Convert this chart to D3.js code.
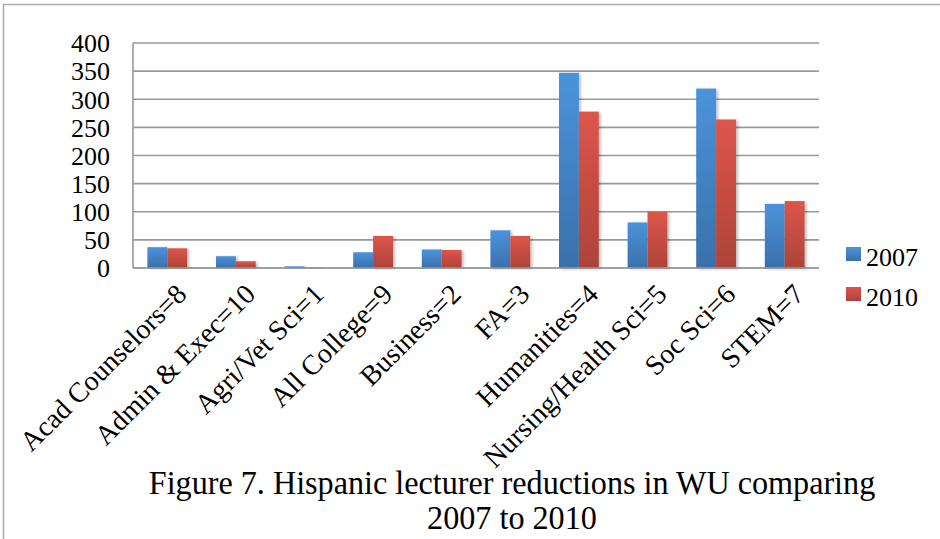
<!DOCTYPE html>
<html>
<head>
<meta charset="utf-8">
<script src="https://cdn.jsdelivr.net/npm/d3@7"></script>
<style>
  body { margin: 0; background: #fff; }
  svg { display: block; font-family: "Liberation Serif", "Times New Roman", serif; }
</style>
</head>
<body>
<div id="chart"></div>
<script>
const categories = [
  "Acad Counselors=8", "Admin & Exec=10", "Agri/Vet Sci=1", "All College=9",
  "Business=2", "FA=3", "Humanities=4", "Nursing/Health Sci=5", "Soc Sci=6", "STEM=7"
];
const seriesNames = ["2007", "2010"];
const values2007 = [37, 21, 3, 28, 33, 67, 347, 81, 319, 114];
const values2010 = [35, 12, 1, 57, 32, 57, 278, 100, 264, 119];
const yTicks = [0, 50, 100, 150, 200, 250, 300, 350, 400];
const titleLines = ["Figure 7. Hispanic lecturer reductions in WU comparing", "2007 to 2010"];

const width = 940, height = 539;
const plot = { left: 133, top: 43, right: 819, bottom: 268 };

const svg = d3.select("#chart").append("svg")
  .attr("width", width)
  .attr("height", height);

const defs = svg.append("defs");
const gradColours = { "2007": ["#4b93db", "#3a70aa"], "2010": ["#dd554b", "#ad4339"] };
seriesNames.forEach((s) => {
  const g = defs.append("linearGradient")
    .attr("id", "grad" + s)
    .attr("x1", 0).attr("y1", 0).attr("x2", 0).attr("y2", 1);
  g.append("stop").attr("offset", "0%").attr("stop-color", gradColours[s][0]);
  g.append("stop").attr("offset", "100%").attr("stop-color", gradColours[s][1]);
});
defs.append("filter").attr("id", "shadow")
  .attr("x", "-20%").attr("y", "-5%").attr("width", "150%").attr("height", "110%")
  .append("feDropShadow")
  .attr("dx", 2).attr("dy", 1).attr("stdDeviation", 1.5)
  .attr("flood-color", "#000").attr("flood-opacity", 0.25);

// outer frame
svg.append("path")
  .attr("d", `M3.5,${height} V4.5 H${width}`)
  .attr("fill", "none")
  .attr("stroke", "#aaa")
  .attr("stroke-width", 1.5);

const x = d3.scaleBand()
  .domain(categories)
  .range([plot.left, plot.right])
  .paddingInner(0.42)
  .paddingOuter(0.21);

const xSeries = d3.scaleBand()
  .domain(seriesNames)
  .range([0, x.bandwidth()]);

const y = d3.scaleLinear()
  .domain([0, 400])
  .range([plot.bottom, plot.top]);

// gridlines
svg.append("g")
  .selectAll("line")
  .data(yTicks)
  .enter()
  .append("line")
  .attr("x1", plot.left)
  .attr("x2", plot.right)
  .attr("y1", (d) => y(d))
  .attr("y2", (d) => y(d))
  .attr("stroke", "#999")
  .attr("stroke-width", 1.6);

// left axis line
svg.append("line")
  .attr("x1", plot.left).attr("x2", plot.left)
  .attr("y1", y(400)).attr("y2", y(0))
  .attr("stroke", "#999")
  .attr("stroke-width", 1.6);

// y tick labels
svg.append("g")
  .selectAll("text")
  .data(yTicks)
  .enter()
  .append("text")
  .attr("x", 110)
  .attr("y", (d) => y(d))
  .attr("dy", "0.36em")
  .attr("text-anchor", "end")
  .attr("font-size", "26px")
  .attr("fill", "#000")
  .text((d) => d);

// bars
const rows = categories.map((c, i) => ({ cat: c, vals: [values2007[i], values2010[i]] }));
const groups = svg.append("g")
  .selectAll("g")
  .data(rows)
  .enter()
  .append("g")
  .attr("transform", (d) => `translate(${x(d.cat)},0)`);

groups.selectAll("rect")
  .data((d) => d.vals.map((v, j) => ({ series: seriesNames[j], value: v })))
  .enter()
  .append("rect")
  .attr("x", (d) => xSeries(d.series))
  .attr("width", xSeries.bandwidth())
  .attr("y", (d) => y(d.value))
  .attr("height", (d) => y(0) - y(d.value))
  .attr("fill", (d) => `url(#grad${d.series})`)
  .attr("filter", "url(#shadow)");

// bottom axis line
svg.append("line")
  .attr("x1", plot.left).attr("x2", plot.right)
  .attr("y1", y(0)).attr("y2", y(0))
  .attr("stroke", "#999")
  .attr("stroke-width", 1.6);

// x category labels, rotated
svg.append("g")
  .selectAll("text")
  .data(categories)
  .enter()
  .append("text")
  .attr("transform", (d) => `translate(${x(d) + x.bandwidth() / 2 + 14},${plot.bottom + 21}) rotate(-45)`)
  .attr("text-anchor", "end")
  .attr("dy", "0.35em")
  .attr("font-size", "28px")
  .attr("fill", "#000")
  .text((d) => d);

// legend
const legend = svg.append("g")
  .selectAll("g")
  .data(seriesNames)
  .enter()
  .append("g")
  .attr("transform", (d, i) => `translate(846,${247 + i * 40})`);

legend.append("rect")
  .attr("width", 15)
  .attr("height", 14)
  .attr("fill", (d) => `url(#grad${d})`);

legend.append("text")
  .attr("x", 20)
  .attr("y", 19)
  .attr("font-size", "26px")
  .attr("fill", "#000")
  .text((d) => d);

// caption, slightly condensed like the source
svg.append("g")
  .attr("transform", "scale(0.975,1)")
  .selectAll("text")
  .data(titleLines)
  .enter()
  .append("text")
  .attr("x", 512 / 0.975)
  .attr("y", (d, i) => 494 + i * 35)
  .attr("text-anchor", "middle")
  .attr("font-size", "33px")
  .attr("fill", "#000")
  .text((d) => d);
</script>
</body>
</html>
